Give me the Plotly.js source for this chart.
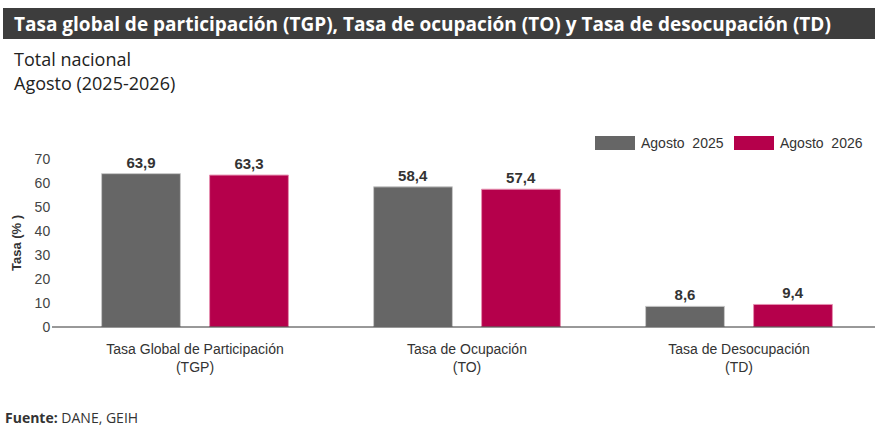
<!DOCTYPE html>
<html>
<head>
<meta charset="utf-8">
<script src="https://cdn.plot.ly/plotly-3.0.1.min.js"></script>
<style>
  html, body { margin: 0; padding: 0; background: #fff; }
  #chart { width: 875px; height: 433px; }
</style>
</head>
<body>
<div id="chart"></div>
<script>
var categories = ['Tasa Global de Participación<br>(TGP)', 'Tasa de Ocupación<br>(TO)', 'Tasa de Desocupación<br>(TD)'];
var series_names = ['Agosto  2025', 'Agosto  2026'];
var values_2025 = [63.9, 58.4, 8.6];
var values_2026 = [63.3, 57.4, 9.4];
var colors = ['#666666', '#b5004b'];

// plot box in pixels, used to place the header / legend / footer
var W = 875, H = 433;
var L = 59, R = 0, T = 159, B = 106;
function px(x) { return (x - L) / (W - L - R); }
function py(y) { return (H - B - y) / (H - T - B); }

var trace1 = {
    x: categories,
    y: values_2025,
    name: series_names[0],
    type: 'bar',
    marker: { color: colors[0], line: { color: '#c8c8c8', width: 1 } },
    text: values_2025.map(function(v){ return v.toFixed(1).replace('.', ','); }),
    textposition: 'outside',
    textfont: { family: 'Arial, Liberation Sans', size: 15, color: '#333', weight: 'bold' },
    cliponaxis: false
};

var trace2 = {
    x: categories,
    y: values_2026,
    name: series_names[1],
    type: 'bar',
    marker: { color: colors[1], line: { color: '#e58fb0', width: 1 } },
    text: values_2026.map(function(v){ return v.toFixed(1).replace('.', ','); }),
    textposition: 'outside',
    textfont: { family: 'Arial, Liberation Sans', size: 15, color: '#333', weight: 'bold' },
    cliponaxis: false
};

var shapes = [
    // header bar
    { type: 'rect', xref: 'paper', yref: 'paper', x0: px(3), x1: px(875), y0: py(39), y1: py(8),
      fillcolor: '#3d3d3d', line: { width: 0 } },
    // base line with small dash at 0
    { type: 'line', xref: 'paper', yref: 'paper', x0: px(52), x1: px(875), y0: 0, y1: 0,
      line: { color: '#333', width: 1 } }
];
var annotations = [
    { text: '<b>Tasa global de participación (TGP), Tasa de ocupación (TO) y Tasa de desocupación (TD)</b>',
      xref: 'paper', yref: 'paper', x: px(12), y: py(24), xanchor: 'left', yanchor: 'middle', showarrow: false,
      font: { family: 'Open Sans', size: 19, color: '#ffffff' } },
    { text: 'Total nacional', xref: 'paper', yref: 'paper', x: px(12), y: py(59), xanchor: 'left', yanchor: 'middle',
      showarrow: false, font: { family: 'Open Sans', size: 18, color: '#222' } },
    { text: 'Agosto (2025-2026)', xref: 'paper', yref: 'paper', x: px(12), y: py(83), xanchor: 'left', yanchor: 'middle',
      showarrow: false, font: { family: 'Open Sans', size: 18, color: '#222' } },
    { text: '<b>Fuente:</b> DANE, GEIH', xref: 'paper', yref: 'paper', x: px(3), y: py(417), xanchor: 'left', yanchor: 'middle',
      showarrow: false, font: { family: 'Open Sans', size: 14, color: '#333' } }
];

// legend drawn by hand so the swatches have the wide shape of the original
var legend_x = [595, 734];
for (var i = 0; i < series_names.length; i++) {
    shapes.push({ type: 'rect', xref: 'paper', yref: 'paper', x0: px(legend_x[i]), x1: px(legend_x[i] + 40),
        y0: py(150), y1: py(136), fillcolor: colors[i], line: { width: 0 } });
    annotations.push({ text: series_names[i], xref: 'paper', yref: 'paper', x: px(legend_x[i] + 44), y: py(143),
        xanchor: 'left', yanchor: 'middle', showarrow: false,
        font: { family: 'Arial, Liberation Sans', size: 14, color: '#333' } });
}

var layout = {
    width: W, height: H,
    margin: { l: L, r: R, t: T, b: B, pad: 0 },
    barmode: 'group',
    bargap: 0.206,
    bargroupgap: 0.27,
    showlegend: false,
    plot_bgcolor: '#fff',
    paper_bgcolor: '#fff',
    separators: ',.',
    font: { family: 'Arial, Liberation Sans', color: '#333' },
    xaxis: {
        tickfont: { family: 'Arial, Liberation Sans', size: 14, color: '#333' },
        showline: false, ticks: '', showgrid: false, zeroline: false,
        ticklabelstandoff: 12
    },
    yaxis: {
        range: [0, 70],
        dtick: 10,
        showgrid: false, zeroline: false, showline: false,
        ticks: 'outside', ticklen: 5, tickcolor: 'rgba(0,0,0,0)',
        tickfont: { family: 'Arial, Liberation Sans', size: 14, color: '#444' },
        title: { text: '<b>Tasa (% )</b>', standoff: 10, font: { family: 'Arial, Liberation Sans', size: 13, color: '#333' } }
    },
    shapes: shapes,
    annotations: annotations
};

Plotly.newPlot('chart', [trace1, trace2], layout, { displayModeBar: false, staticPlot: true });
</script>
</body>
</html>
